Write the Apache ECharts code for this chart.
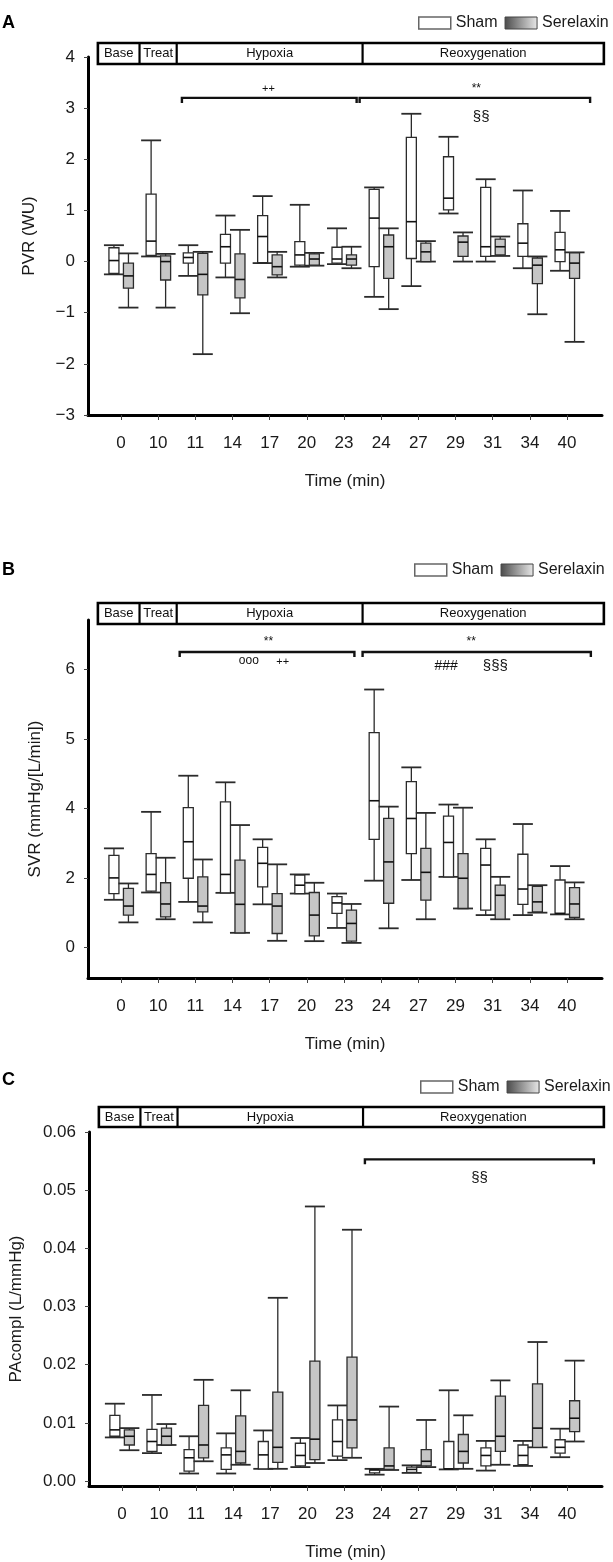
<!DOCTYPE html>
<html><head><meta charset="utf-8">
<script src="https://cdn.jsdelivr.net/npm/echarts@6.0.0/dist/echarts.min.js"></script>
<style>html,body{margin:0;padding:0;background:#fff}#c{width:613px;height:1562px}</style>
</head><body><div id="c"></div>
<script>
// ---------- data ----------
const categories = ['0','10','11','14','17','20','23','24','27','29','31','34','40'];
// each entry: [min, Q1, median, Q3, max]
const pvrSham = [
  [-0.25,-0.23,0.02,0.27,0.32],[0.10,0.12,0.40,1.32,2.37],[-0.28,-0.03,0.08,0.17,0.32],
  [-0.31,-0.03,0.29,0.53,0.90],[-0.03,-0.02,0.49,0.90,1.28],[-0.10,-0.07,0.13,0.39,1.11],
  [-0.05,-0.03,0.05,0.28,0.65],[-0.69,-0.10,0.85,1.41,1.45],[-0.48,0.06,0.78,2.43,2.89],
  [0.94,1.01,1.24,2.05,2.44],[0.00,0.10,0.29,1.45,1.61],[-0.13,0.10,0.36,0.74,1.39],
  [-0.18,0.00,0.23,0.57,0.99]];
const pvrSerelaxin = [
  [-0.90,-0.52,-0.28,-0.03,0.16],[-0.90,-0.36,0.00,0.11,0.15],[-1.81,-0.65,-0.25,0.16,0.19],
  [-1.01,-0.71,-0.35,0.15,0.62],[-0.31,-0.26,-0.10,0.13,0.19],[-0.08,-0.07,0.05,0.15,0.17],
  [-0.13,-0.07,0.05,0.13,0.29],[-0.93,-0.33,0.29,0.52,0.65],[0.00,0.00,0.19,0.36,0.40],
  [0.00,0.10,0.38,0.50,0.57],[0.11,0.13,0.29,0.44,0.49],[-1.03,-0.43,-0.07,0.07,0.10],
  [-1.57,-0.33,-0.03,0.17,0.18]];
// SVR values on the drawn (evenly spaced) scale; the original axis prints 5 and 6 at the 6 and 8 positions
const svrSham = [
  [1.37,1.55,2.00,2.65,2.85],[1.58,1.62,2.10,2.70,3.90],[1.31,1.99,3.04,4.02,4.94],
  [1.57,1.57,2.10,4.19,4.75],[1.24,1.74,2.42,2.88,3.11],[1.55,1.55,1.79,2.08,2.10],
  [0.56,0.98,1.28,1.46,1.55],[1.92,3.11,4.22,6.18,7.42],[1.94,2.70,3.71,4.77,5.18],
  [2.03,2.03,3.02,3.78,4.11],[0.93,1.07,2.37,2.85,3.11],[0.93,1.24,1.68,2.68,3.55],
  [0.95,0.95,0.98,1.94,2.34]];
const svrSerelaxin = [
  [0.72,0.93,1.19,1.70,1.84],[0.81,0.88,1.25,1.86,2.58],[0.72,1.02,1.19,2.03,2.53],
  [0.42,0.42,1.24,2.51,3.52],[0.19,0.40,1.19,1.55,2.39],[0.18,0.33,0.93,1.58,1.86],
  [0.13,0.18,0.69,1.07,1.25],[0.55,1.27,2.46,3.71,4.05],[0.81,1.36,2.16,2.85,3.87],
  [1.12,1.12,1.99,2.70,4.02],[0.81,0.81,1.50,1.79,2.03],[1.00,1.02,1.31,1.76,1.79],
  [0.81,0.86,1.25,1.72,1.87]];
const svrTickValues = [0,2,4,6,8];
const svrTickLabels = ['0','2','4','5','6'];
const paSham = [
  [0.0075,0.0077,0.0088,0.0113,0.0133],[0.0048,0.0051,0.0068,0.0089,0.0148],[0.0013,0.0017,0.0040,0.0054,0.0077],
  [0.0013,0.0020,0.0045,0.0057,0.0082],[0.0021,0.0021,0.0045,0.0068,0.0087],[0.0024,0.0026,0.0044,0.0065,0.0074],
  [0.0036,0.0043,0.0068,0.0105,0.0130],[0.0011,0.0014,0.0019,0.0020,0.0021],[0.0014,0.0015,0.0020,0.0024,0.0027],
  [0.0020,0.0020,0.0021,0.0068,0.0156],[0.0018,0.0026,0.0044,0.0057,0.0069],[0.0026,0.0028,0.0044,0.0062,0.0069],
  [0.0041,0.0048,0.0058,0.0071,0.0090]];
const paSerelaxin = [
  [0.0053,0.0062,0.0077,0.0088,0.0091],[0.0062,0.0062,0.0077,0.0091,0.0098],[0.0034,0.0040,0.0062,0.0130,0.0174],
  [0.0028,0.0031,0.0051,0.0112,0.0156],[0.0021,0.0032,0.0058,0.0153,0.0315],[0.0031,0.0037,0.0072,0.0206,0.0472],
  [0.0040,0.0057,0.0105,0.0213,0.0432],[0.0019,0.0020,0.0026,0.0057,0.0128],[0.0024,0.0026,0.0034,0.0054,0.0105],
  [0.0021,0.0031,0.0051,0.0080,0.0113],[0.0028,0.0051,0.0077,0.0146,0.0173],[0.0058,0.0058,0.0091,0.0167,0.0239],
  [0.0068,0.0085,0.0108,0.0138,0.0207]];
const paTickValues = [0,0.01,0.02,0.03,0.04,0.05,0.06];
const pvrTickValues = [-3,-2,-1,0,1,2,3,4];
// phases: [label, first category index, last category index]
const phases = [['Base',0,0],['Treat',1,1],['Hypoxia',2,6],['Reoxygenation',7,12]];
const seriesNames = ['Sham','Serelaxin'];

// ---------- rendering ----------
const FONT = "'Liberation Sans', Arial, Helvetica, sans-serif";
const INK = '#1a1a1a';
const catIdx = categories.map((c,i)=>i);

function boxRender(offsetPx, fill) {
  return function (params, api) {
    const i = api.value(0);
    const pMin = api.coord([i, api.value(1)]);
    const pQ1 = api.coord([i, api.value(2)]);
    const pMed = api.coord([i, api.value(3)]);
    const pQ3 = api.coord([i, api.value(4)]);
    const pMax = api.coord([i, api.value(5)]);
    const x = pMin[0] + offsetPx, hw = 5, cw = 10;
    const ls = {stroke: '#2b2b2b', lineWidth: 1.3};
    return {type: 'group', children: [
      {type:'line', shape:{x1:x,y1:pMax[1],x2:x,y2:pMin[1]}, style:ls},
      {type:'line', shape:{x1:x-cw,y1:pMax[1],x2:x+cw,y2:pMax[1]}, style:{stroke:'#2b2b2b', lineWidth:1.8}},
      {type:'line', shape:{x1:x-cw,y1:pMin[1],x2:x+cw,y2:pMin[1]}, style:{stroke:'#2b2b2b', lineWidth:1.8}},
      {type:'rect', shape:{x:x-hw,y:pQ3[1],width:2*hw,height:Math.max(1,pQ1[1]-pQ3[1])}, style:{fill:fill, stroke:'#2b2b2b', lineWidth:1.3}},
      {type:'line', shape:{x1:x-hw,y1:pMed[1],x2:x+hw,y2:pMed[1]}, style:{stroke:'#111', lineWidth:1.6}}
    ]};
  };
}

function phaseEdges() {
  const e = [phases[0][1] - 0.62];
  for (let k = 0; k < phases.length - 1; k++) e.push((phases[k][2] + phases[k+1][1]) / 2);
  e.push(phases[phases.length-1][2] + 0.99);
  return e;
}

function decorRender(cfg) {
  return function (params, api) {
    const X = v => api.coord([v, cfg.yMax])[0];
    const Y = v => api.coord([0, v])[1];
    const top = api.coord([0, cfg.yMax])[1];
    const hy1 = top + cfg.headTop, hy2 = top + cfg.headBottom;
    const edges = phaseEdges();
    const ch = [];
    ch.push({type:'rect', shape:{x:X(edges[0]), y:hy1, width:X(edges[edges.length-1])-X(edges[0]), height:hy2-hy1},
             style:{fill:'#fff', stroke:'#000', lineWidth:2.6}});
    for (let k = 1; k < edges.length - 1; k++)
      ch.push({type:'line', shape:{x1:X(edges[k]),y1:hy1,x2:X(edges[k]),y2:hy2}, style:{stroke:'#000', lineWidth:2.2}});
    phases.forEach((p, k) => {
      ch.push({type:'text', x:(X(edges[k])+X(edges[k+1]))/2, y:(hy1+hy2)/2,
               style:{text:p[0], fill:'#111', fontSize:13, fontFamily:FONT, align:'center', verticalAlign:'middle'}});
    });
    cfg.brackets.forEach(b => {
      const y = Y(b.y), x1 = X(b.x1), x2 = X(b.x2);
      ch.push({type:'polyline', shape:{points:[[x1,y+5],[x1,y],[x2,y],[x2,y+5]]}, style:{stroke:'#111', lineWidth:2.4, fill:null}});
    });
    cfg.marks.forEach(m => {
      ch.push({type:'text', x:X(m.x), y:Y(m.y),
               style:{text:m.t, fill:'#111', fontSize:m.s, fontFamily:FONT, align:'center', verticalAlign:'middle'}});
    });
    return {type:'group', children: ch};
  };
}

const panels = [
  {key:'A', top:57, yMin:-3, yMax:4, name:'PVR (WU)', nameGap:50,
   ticks:pvrTickValues, fmt:v => v < 0 ? '\u2212' + (-v) : String(v),
   sham:pvrSham, ser:pvrSerelaxin, headTop:-14, headBottom:7, legendTop:15, letterTop:14, legendLeft:418,
   brackets:[{x1:1.64,x2:6.34,y:3.2},{x1:6.42,x2:12.62,y:3.2}],
   marks:[{t:'++',x:3.97,y:3.38,s:11},{t:'**',x:9.56,y:3.38,s:12},{t:'\u00a7\u00a7',x:9.69,y:2.83,s:15}]},
  {key:'B', top:620, yMin:-0.88, yMax:9.42, name:'SVR (mmHg/[L/min])', nameGap:44,
   ticks:svrTickValues, fmt:v => svrTickLabels[svrTickValues.indexOf(Math.round(v))] || '',
   sham:svrSham, ser:svrSerelaxin, headTop:-17, headBottom:4, legendTop:562, letterTop:561, legendLeft:414,
   brackets:[{x1:1.58,x2:6.28,y:8.5},{x1:6.5,x2:12.64,y:8.5}],
   marks:[{t:'**',x:3.97,y:8.8,s:12},{t:'**',x:9.42,y:8.8,s:12},{t:'ooo',x:3.44,y:8.24,s:12},
          {t:'++',x:4.35,y:8.22,s:11},{t:'###',x:8.75,y:8.1,s:14},{t:'\u00a7\u00a7\u00a7',x:10.07,y:8.1,s:15}]},
  {key:'C', top:1132, yMin:-0.00085, yMax:0.06, name:'PAcompl (L/mmHg)', nameGap:64,
   ticks:paTickValues, fmt:v => v.toFixed(2),
   sham:paSham, ser:paSerelaxin, headTop:-25, headBottom:-5, legendTop:1079, letterTop:1071, legendLeft:420,
   brackets:[{x1:6.55,x2:12.72,y:0.0553}],
   marks:[{t:'\u00a7\u00a7',x:9.64,y:0.0521,s:15}]}
];

const serFill = '#c6c6c6';
const legendGradient = {type:'linear', x:0, y:0, x2:1, y2:0,
  colorStops:[{offset:0,color:'#4a4a4a'},{offset:0.5,color:'#9a9a9a'},{offset:1,color:'#e8e8e8'}]};

const option = {
  animation: false,
  backgroundColor: '#fff',
  textStyle: {fontFamily: FONT},
  grid: [], xAxis: [], yAxis: [], series: [], legend: [], graphic: []
};

panels.forEach((p, gi) => {
  option.grid.push({left: 88, right: 11, top: p.top, height: 358});
  option.xAxis.push({
    type:'value', gridIndex:gi, min:-0.886, max:12.94,
    name:'Time (min)', nameLocation:'middle', nameGap:58,
    nameTextStyle:{fontSize:17, color:INK, fontFamily:FONT},
    axisLine:{show:true, onZero:false, lineStyle:{color:'#000', width:3}},
    axisTick:{show:true, customValues:catIdx, length:5, lineStyle:{color:'#444', width:1}},
    axisLabel:{customValues:catIdx, formatter:v => categories[Math.round(v)], fontSize:17, color:INK, margin:20, fontFamily:FONT},
    splitLine:{show:false}
  });
  option.yAxis.push({
    type:'value', gridIndex:gi, min:p.yMin, max:p.yMax,
    name:p.name, nameLocation:'middle', nameGap:p.nameGap,
    nameTextStyle:{fontSize:17, color:INK, fontFamily:FONT},
    axisLine:{show:true, onZero:false, lineStyle:{color:'#000', width:3}},
    axisTick:{show:true, customValues:p.ticks, length:4, lineStyle:{color:'#444', width:1}},
    axisLabel:{customValues:p.ticks, formatter:p.fmt, fontSize:17, color:INK, margin:13, fontFamily:FONT},
    splitLine:{show:false}
  });
  option.series.push({
    type:'custom', name:seriesNames[0], xAxisIndex:gi, yAxisIndex:gi,
    itemStyle:{color:'#ffffff', borderColor:'#555'},
    renderItem: boxRender(-7, '#ffffff'),
    encode:{x:0, y:[1,2,3,4,5]},
    data: p.sham.map((d,i) => [i].concat(d)), z: 3
  });
  option.series.push({
    type:'custom', name:seriesNames[1], xAxisIndex:gi, yAxisIndex:gi,
    itemStyle:{color:serFill, borderColor:'#333'},
    renderItem: boxRender(7.5, serFill),
    encode:{x:0, y:[1,2,3,4,5]},
    data: p.ser.map((d,i) => [i].concat(d)), z: 3
  });
  option.series.push({
    type:'custom', name:'decor' + gi, xAxisIndex:gi, yAxisIndex:gi, silent:true, clip:false,
    renderItem: decorRender(p), encode:{x:0, y:1}, data:[[0, 0]], z: 4
  });
  option.legend.push({
    left: p.legendLeft, top: p.legendTop, width: 200, padding: 0, orient:'horizontal', selectedMode:false,
    itemWidth:32, itemHeight:12, itemGap:7, icon:'rect',
    textStyle:{fontSize:16, color:INK, fontFamily:FONT},
    data:[
      {name:seriesNames[0], itemStyle:{color:'#ffffff', borderColor:'#666', borderWidth:1.5}},
      {name:seriesNames[1], itemStyle:{color:legendGradient, borderColor:'#444', borderWidth:1}}
    ]
  });
  option.graphic.push({type:'text', left:2, top:p.letterTop,
    style:{text:p.key, font:'bold 18px ' + FONT, fill:'#000'}});
});

const chart = echarts.init(document.getElementById('c'), null, {renderer:'canvas'});
chart.setOption(option);
</script></body></html>
